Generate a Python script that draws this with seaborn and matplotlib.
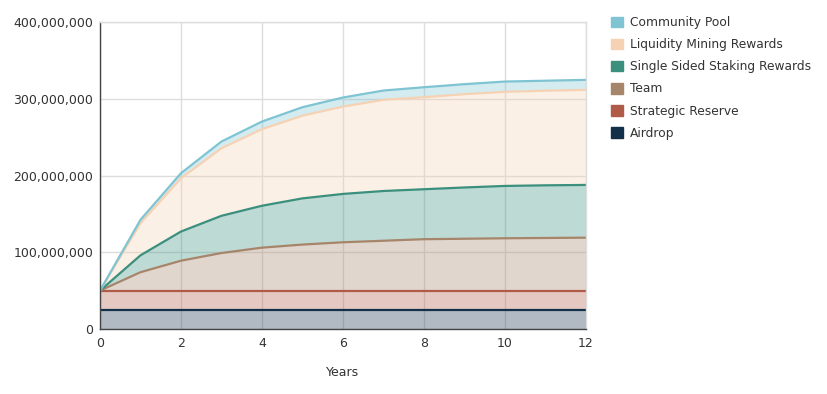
import numpy as np
import pandas as pd
import matplotlib
matplotlib.use('Agg')
import matplotlib.pyplot as plt
from matplotlib.patches import Patch
from matplotlib.ticker import FuncFormatter
import seaborn as sns

# Unlocked tokens per allocation, in millions (layer amounts, stacked bottom -> top)
years = [0, 1, 2, 3, 4, 5, 6, 7, 8, 9, 10, 11, 12]
airdrop = [25, 25, 25, 25, 25, 25, 25, 25, 25, 25, 25, 25, 25]
strategic_reserve = [25, 25, 25, 25, 25, 25, 25, 25, 25, 25, 25, 25, 25]
team = [0, 24, 39, 49, 56, 60, 63, 65, 67, 67.6, 68.2, 68.6, 69]
single_sided_staking = [0, 22, 38, 48.5, 54.6, 60.2, 63, 64.8, 65.1, 66.8, 68.2, 68.6, 68.7]
liquidity_mining = [0, 42, 69.5, 88, 99.8, 107.8, 113.8, 118.8, 119.9, 121.6, 122.6, 123.3, 123.9]
community_pool = [0, 4.3, 6.5, 8.8, 9.9, 11, 11.8, 12.1, 13, 13, 13.4, 13, 13]

series_names = ['Airdrop', 'Strategic Reserve', 'Team', 'Single Sided Staking Rewards',
                'Liquidity Mining Rewards', 'Community Pool']
series_values = [airdrop, strategic_reserve, team, single_sided_staking,
                 liquidity_mining, community_pool]
colors = ['#13304a', '#b05a48', '#a6856a', '#3a8f7d', '#f5d2b3', '#7fc4d2']

DPI = 100
FONTSIZE = 9
TEXT_COLOR = '#333333'

# long table of stacked totals
rows = []
running = np.zeros(len(years))
for name, vals in zip(series_names, series_values):
    running = running + np.array(vals) * 1e6
    for yr, tot in zip(years, running):
        rows.append({'Years': yr, 'Allocation': name, 'Total': tot})
df = pd.DataFrame(rows)

sns.set_style('white')
plt.rcParams['font.family'] = ['DejaVu Sans']

fig = plt.figure(figsize=(828 / DPI, 394 / DPI), dpi=DPI)
ax = fig.add_axes([100 / 828, 1 - 329 / 394, 486 / 828, 307 / 394])

ax.set_axisbelow(True)
ax.grid(True, color='#dddddd', linewidth=1)

lower = np.zeros(len(years))
for name, color in zip(series_names, colors):
    upper = df.loc[df['Allocation'] == name, 'Total'].values
    ax.fill_between(years, lower, upper, color=color, alpha=0.33, linewidth=0)
    lower = upper

sns.lineplot(data=df, x='Years', y='Total', hue='Allocation', hue_order=series_names,
             palette=colors, linewidth=1.6, legend=False, ax=ax)

ax.set_xlim(0, 12)
ax.set_ylim(0, 400e6)
ax.set_xticks(range(0, 13, 2))
ax.set_yticks([0, 100e6, 200e6, 300e6, 400e6])
ax.yaxis.set_major_formatter(FuncFormatter(lambda v, p: f'{v:,.0f}'))
ax.tick_params(axis='both', length=0, labelsize=FONTSIZE, labelcolor=TEXT_COLOR)
ax.tick_params(axis='x', pad=6)
ax.tick_params(axis='y', pad=5)
ax.set_xlabel('Years', fontsize=FONTSIZE, color=TEXT_COLOR, labelpad=11)
ax.set_ylabel('')

for side in ['top', 'right']:
    ax.spines[side].set_color('#dddddd')
    ax.spines[side].set_linewidth(1)
for side in ['left', 'bottom']:
    ax.spines[side].set_color('#444444')
    ax.spines[side].set_linewidth(1)

handles = [Patch(facecolor=c, edgecolor=c) for c in colors[::-1]]
fig.legend(handles, series_names[::-1], loc='upper left',
           bbox_to_anchor=(600 / 828, 1 - 5 / 394), frameon=False,
           fontsize=8.8, handlelength=0.95, handleheight=0.95,
           handletextpad=0.6, labelspacing=0.75, labelcolor=TEXT_COLOR)

fig.savefig('out.png', dpi=DPI)
